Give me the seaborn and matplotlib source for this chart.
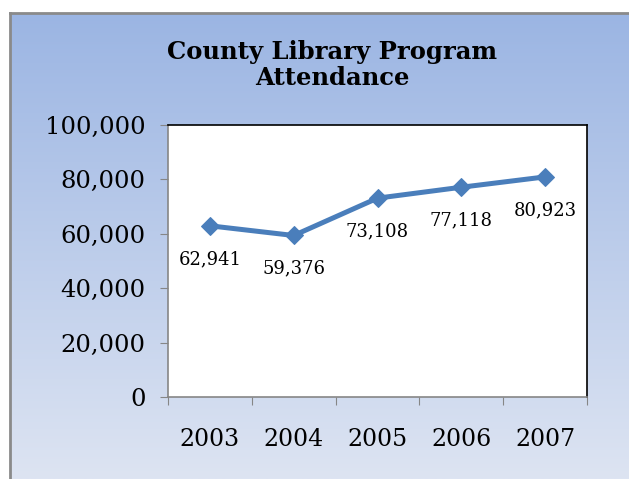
import numpy as np
import pandas as pd
import matplotlib
matplotlib.use("Agg")
import matplotlib.pyplot as plt
import seaborn as sns

years = ["2003", "2004", "2005", "2006", "2007"]
attendance = [62941, 59376, 73108, 77118, 80923]
y_ticks = [0, 20000, 40000, 60000, 80000, 100000]

df = pd.DataFrame({"year": years, "attendance": attendance})

sns.set_style("white")
plt.rcParams["font.family"] = ["DejaVu Serif"]
plt.rcParams["text.color"] = "black"
plt.rcParams["xtick.color"] = "black"
plt.rcParams["ytick.color"] = "black"

fig = plt.figure(figsize=(6.29, 4.79), dpi=100)
fig.patch.set_facecolor("white")

# chart area with a vertical gradient, offset from the top-left corner
bg = fig.add_axes([10 / 629, 0, 1 - 10 / 629, 1 - 13 / 479])
grad = np.linspace(0, 1, 256).reshape(-1, 1)
top = np.array([155, 181, 227]) / 255
bottom = np.array([221, 228, 242]) / 255
img = top[None, None, :] * (1 - grad[:, :, None]) + bottom[None, None, :] * grad[:, :, None]
bg.imshow(img, aspect="auto", extent=[0, 1, 0, 1])
bg.set_xticks([])
bg.set_yticks([])
for side in ["right", "bottom"]:
    bg.spines[side].set_visible(False)
for side in ["left", "top"]:
    bg.spines[side].set_color("#8a8a8a")
    bg.spines[side].set_linewidth(2)

ax = fig.add_axes([168 / 629, 1 - 397 / 479, (587 - 168) / 629, (397 - 125) / 479])
ax.set_facecolor("white")

sns.lineplot(data=df, x="year", y="attendance", ax=ax, color="#4A7EBB",
             linewidth=3.6, marker="D", markersize=9, markeredgecolor="#4A7EBB")

for i, v in enumerate(attendance):
    ax.annotate(f"{v:,}", (i, v), xytext=(0, -24), textcoords="offset points",
                ha="center", va="center", fontsize=13, color="black")

ax.set_ylim(0, 100000)
ax.set_yticks(y_ticks)
ax.set_yticklabels([f"{t:,}" for t in y_ticks], fontsize=17.5)
ax.set_xlim(-0.5, 4.5)
ax.set_xticks(np.arange(-0.5, 5, 1))
ax.set_xticklabels([])
ax.set_xticks(range(len(years)), minor=True)
ax.set_xticklabels(years, minor=True, fontsize=17)
ax.tick_params(axis="x", which="major", direction="out", length=6, color="#868686", bottom=True)
ax.tick_params(axis="x", which="minor", length=0, pad=22, bottom=True)
ax.tick_params(axis="y", direction="out", length=6, color="#868686", pad=10, left=True)
ax.set_xlabel("")
ax.set_ylabel("")

for side in ["left", "bottom"]:
    ax.spines[side].set_color("#868686")
    ax.spines[side].set_linewidth(1.2)
for side in ["top", "right"]:
    ax.spines[side].set_color("black")
    ax.spines[side].set_linewidth(1.2)

fig.text(332 / 629, 1 - 65 / 479, "County Library Program\nAttendance", ha="center",
         va="center", fontsize=17.5, fontweight="bold", linespacing=1.15, color="black")

fig.savefig("out.png", dpi=100)
